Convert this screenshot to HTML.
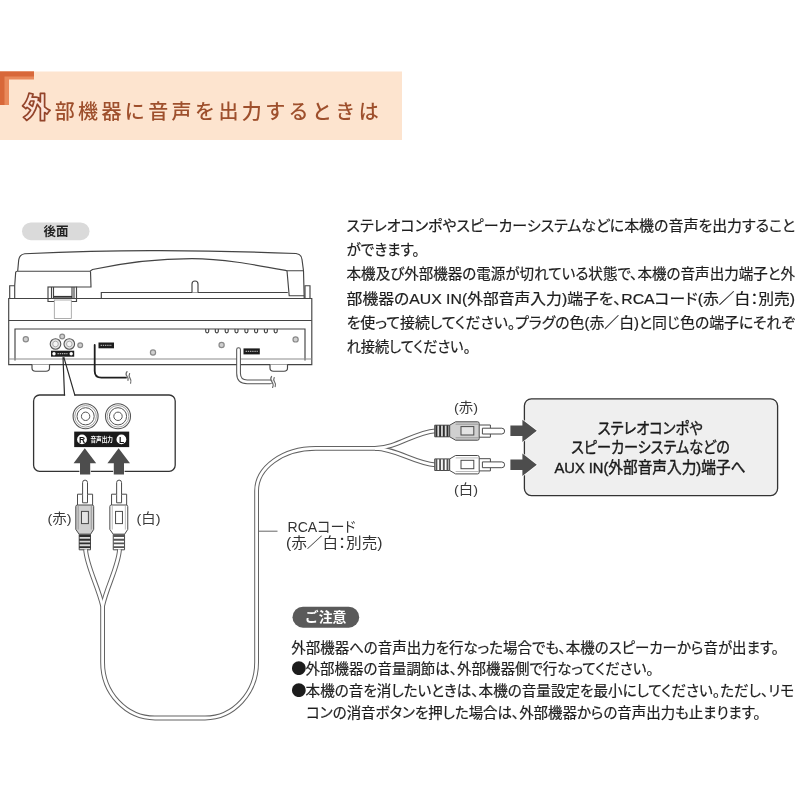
<!DOCTYPE html>
<html lang="ja">
<head>
<meta charset="utf-8">
<title>外部機器に音声を出力するときは</title>
<style>
html,body{margin:0;padding:0;background:#fff;}
body{width:800px;height:800px;overflow:hidden;position:relative;font-family:"Liberation Sans","Noto Sans CJK JP",sans-serif;}
svg{position:absolute;left:0;top:0;display:block;will-change:transform;}
text{font-family:"Liberation Sans","Noto Sans CJK JP",sans-serif;}
.body{font-size:15px;fill:#1e1e1e;stroke:#1e1e1e;stroke-width:0.22px;font-weight:400;font-feature-settings:"palt";}
.note{font-size:14.5px;fill:#1e1e1e;stroke:#1e1e1e;stroke-width:0.22px;font-weight:400;font-feature-settings:"palt";}
.ttl{font-size:20px;fill:#9e4f2c;font-weight:500;}
.bul{font-family:"Noto Sans CJK JP",sans-serif;font-size:15.2px;fill:#1c1c1c;}
.lbl{font-size:13.5px;fill:#3a3a3a;font-weight:400;}
.lbl2{font-size:14.5px;fill:#333;font-weight:400;font-feature-settings:"palt";}
.ln{fill:none;stroke:#444;stroke-width:1.15;}
.lnf{fill:#fff;stroke:#444;stroke-width:1.15;}
</style>
</head>
<body>
<svg width="800" height="800" viewBox="0 0 800 800">
<!-- ===== HEADER ===== -->
<g id="header">
<rect x="0" y="71.5" width="402" height="68.5" fill="#fde4cf"/>
<path d="M0 71.5H34V79.5H9V105H0Z" fill="#e98a5c"/>
<path d="M0 71.5H34V76.5H4.5V105H0Z" fill="#d8683a"/>
<text x="22.3" y="117.6" font-size="28" font-weight="900" fill="#fce3d8" stroke="#93442a" stroke-width="1.7" stroke-linejoin="round">外</text>
<text class="ttl" x="54.7" y="118.7" textLength="324" lengthAdjust="spacing">部機器に音声を出力するときは</text>
</g>

<!-- ===== PARAGRAPH ===== -->
<g id="para">
<text class="body" x="346.6" y="230.5" textLength="448.5" lengthAdjust="spacingAndGlyphs">ステレオコンポやスピーカーシステムなどに本機の音声を出力すること</text>
<text class="body" x="346.6" y="254.6" textLength="73" lengthAdjust="spacingAndGlyphs">ができます。</text>
<text class="body" x="346.6" y="279.3" textLength="448.5" lengthAdjust="spacingAndGlyphs">本機及び外部機器の電源が切れている状態で、本機の音声出力端子と外</text>
<text class="body" x="346.6" y="303.8" textLength="448.5" lengthAdjust="spacingAndGlyphs">部機器のAUX IN(外部音声入力)端子を、RCAコード(赤／白：別売)</text>
<text class="body" x="346.6" y="327.8" textLength="448.5" lengthAdjust="spacingAndGlyphs">を使って接続してください。プラグの色(赤／白)と同じ色の端子にそれぞ</text>
<text class="body" x="346.6" y="351.8" textLength="124" lengthAdjust="spacingAndGlyphs">れ接続してください。</text>
</g>

<!-- ===== NOTE ===== -->
<g id="note">
<rect x="292.5" y="606.7" width="66.7" height="21" rx="10.5" fill="#5a5a5a"/>
<text x="325.6" y="622.2" text-anchor="middle" font-size="14" font-weight="700" fill="#fff" textLength="41.5" lengthAdjust="spacingAndGlyphs">ご注意</text>
<text class="note" x="291.3" y="652.5" textLength="487.5" lengthAdjust="spacingAndGlyphs">外部機器への音声出力を行なった場合でも、本機のスピーカーから音が出ます。</text>
<text class="bul" x="291.2" y="674.3">●</text>
<text class="note" x="305.6" y="673.5" textLength="348" lengthAdjust="spacingAndGlyphs">外部機器の音量調節は、外部機器側で行なってください。</text>
<text class="bul" x="291.2" y="696.4">●</text>
<text class="note" x="305.6" y="696" textLength="488.5" lengthAdjust="spacingAndGlyphs">本機の音を消したいときは、本機の音量設定を最小にしてください。ただし、リモ</text>
<text class="note" x="306.2" y="717.6" textLength="454.5" lengthAdjust="spacingAndGlyphs">コンの消音ボタンを押した場合は、外部機器からの音声出力も止まります。</text>
</g>

<!-- ===== DIAGRAM ===== -->
<g id="diagram">
<!-- label pill -->
<rect x="22" y="222.4" width="67.5" height="17.8" rx="8.9" fill="#dadada"/>
<text x="56" y="236" text-anchor="middle" font-size="12.5" font-weight="700" fill="#222">後面</text>

<!-- turntable: lid -->
<g class="ln">
<path class="lnf" d="M14.7 298.5V285.7L15.7 272L17.7 271L18.7 260Q19.6 254.4 24.7 253.8Q100 250.3 160 250.6Q230 250.9 296 253.5Q301.5 254.2 302 259.5L303.5 270.7L304.2 298.5Z"/>
<path d="M9.7 298.5V285.7H14.7"/>
<path d="M17.7 271.2H90L92.5 269.5C125 262.5 160 258.6 192 258.6C222 258.6 254 264.6 287 270.7H303.5"/>
<path d="M90.5 271.2L91 287H76.5"/>
<path d="M287 270.7L289.2 295.7H304.2"/>
<path d="M305 298.5V285.7H310V298.5"/>
<!-- platter + spindle -->
<path d="M101.3 298.5V292.5H287.8"/>
<path class="lnf" d="M192 292.5V284Q192 281 195 281Q198 281 198 284V292.5"/>
</g>
<!-- hinge -->
<g class="ln">
<rect x="48" y="287" width="28.5" height="14.5" fill="#fff"/>
<path d="M51.5 287V301.5M53.5 287V301.5M72 287V301.5M74 287V301.5"/>
<path d="M53.5 296.8H72" stroke="#333" stroke-width="1.8"/>
</g>
<!-- body -->
<g class="ln">
<path d="M8.7 298.5H311.8V364.6H8.7Z" fill="#fff"/>
<path d="M48 298.5V301.5H54M76.5 298.5V301.5H71" />
<rect x="54.3" y="300" width="17" height="18.5" stroke="#999" stroke-width="0.8" fill="#fff"/>
<path d="M8.7 320.5H311.8"/>
<path d="M15 360.4V329H305V360.4"/>
<path d="M8.7 359H311.8" stroke="#8c8c8c" stroke-width="1.1"/>
<!-- feet -->
<path class="lnf" d="M32 364.6V368Q32 371.2 35.5 371.2H46Q49.5 371.2 49.5 368V364.6"/>
<path class="lnf" d="M270 364.6V368Q270 371.2 273.5 371.2H284Q287.5 371.2 287.5 368V364.6"/>
</g>
<!-- vent holes -->
<g class="ln" stroke-width="0.9">
<path d="M205.7 329V331.3a1.5 1.5 0 0 0 3 0V329"/>
<path d="M215.3 329V331.3a1.5 1.5 0 0 0 3 0V329"/>
<path d="M225.2 329V331.3a1.5 1.5 0 0 0 3 0V329"/>
<path d="M235 329V331.3a1.5 1.5 0 0 0 3 0V329"/>
<path d="M244.9 329V331.3a1.5 1.5 0 0 0 3 0V329"/>
<path d="M254.6 329V331.3a1.5 1.5 0 0 0 3 0V329"/>
<path d="M264.4 329V331.3a1.5 1.5 0 0 0 3 0V329"/>
<path d="M274.2 329V331.3a1.5 1.5 0 0 0 3 0V329"/>
</g>
<!-- screws -->
<g fill="#cfcfcf" stroke="#8a8a8a" stroke-width="1.2">
<circle cx="25.8" cy="339.2" r="2.6"/>
<circle cx="153" cy="352.5" r="2.6"/>
<circle cx="221.6" cy="345" r="2.6"/>
<circle cx="295.6" cy="339.4" r="2.6"/>
<circle cx="62.2" cy="336.5" r="2.4"/>
<circle cx="80.2" cy="345.2" r="2.4"/>
</g>
<!-- small RCA jacks on panel -->
<g fill="#e4e4e4" stroke="#555" stroke-width="1.1">
<circle cx="55.5" cy="344" r="5.3"/>
<circle cx="69.3" cy="344" r="5.3"/>
</g>
<g fill="#f4f4f4" stroke="#999" stroke-width="0.8">
<circle cx="55.5" cy="344" r="2.8"/>
<circle cx="69.3" cy="344" r="2.8"/>
</g>
<rect x="51" y="350.7" width="23.2" height="6" fill="#1c1c1c"/>
<circle cx="54" cy="353.7" r="1.7" fill="#fff"/>
<circle cx="71.2" cy="353.7" r="1.7" fill="#fff"/>
<path d="M57.5 353.7H67.5" stroke="#b5b5b5" stroke-width="1.2" stroke-dasharray="1.4 0.8"/>
<!-- PHONE OUT label + black cord -->
<rect x="98.5" y="342.5" width="15.5" height="5.8" fill="#1c1c1c"/>
<path d="M100.6 345.4H112" stroke="#a8a8a8" stroke-width="1.2" stroke-dasharray="1.4 0.8"/>
<path d="M94.7 345V371Q94.7 377.7 101.4 377.7H126" fill="none" stroke="#1e1e1e" stroke-width="1.8" stroke-linecap="round"/>
<path d="M127 371.6q-1.8 2.4 -0.2 4.4q1.8 2 1.2 4.4M129.6 373.6q-1.2 2.4 0.4 4.6q1.6 2.2 0.6 5" fill="none" stroke="#6a6a6a" stroke-width="1.2" stroke-linecap="round"/>
<!-- AC label + AC cord -->
<rect x="243.5" y="348.4" width="16.3" height="6" fill="#1c1c1c"/>
<path d="M245.6 351.4H257.8" stroke="#a8a8a8" stroke-width="1.2" stroke-dasharray="1.4 0.8"/>
<path d="M238.55 349.6V373.2Q238.55 381.8 247.2 381.8H270.3" fill="none" stroke="#555" stroke-width="4.8" stroke-linecap="round"/>
<path d="M238.55 349.6V373.2Q238.55 381.8 247.2 381.8H271.6" fill="none" stroke="#fff" stroke-width="2.7" stroke-linecap="round"/>
<path d="M271.6 376.4q-1.8 2.6 0.2 5.2q2.2 2.8 0.8 5.8M274.2 377.6q-1.2 2.2 0.4 4.4q1.6 2.2 0.6 4.6" fill="none" stroke="#6a6a6a" stroke-width="1.2" stroke-linecap="round"/>

<!-- zoom box -->
<rect x="33.6" y="395" width="141.6" height="76.3" rx="6" fill="#fff" stroke="#333" stroke-width="1.3"/>
<path d="M65.1 395H74.4" stroke="#fff" stroke-width="3.4"/>
<path d="M63 357.2L64.5 395.6M63.8 357.2L75 395.6" fill="none" stroke="#2a2a2a" stroke-width="1.2"/>
<!-- big jacks -->
<g fill="none" stroke="#555">
<circle cx="85.6" cy="416.3" r="12.5" stroke-width="1.1" fill="#fff"/>
<circle cx="85.6" cy="416.3" r="10.8" stroke-width="0.8" stroke="#8c8c8c"/>
<circle cx="85.6" cy="416.3" r="8.6" stroke-width="1"/>
<circle cx="85.6" cy="416.3" r="4.2" stroke-width="1"/>
<circle cx="118" cy="416.3" r="12.5" stroke-width="1.1" fill="#fff"/>
<circle cx="118" cy="416.3" r="10.8" stroke-width="0.8" stroke="#8c8c8c"/>
<circle cx="118" cy="416.3" r="8.6" stroke-width="1"/>
<circle cx="118" cy="416.3" r="4.2" stroke-width="1"/>
</g>
<!-- black label -->
<rect x="74.2" y="431.6" width="55" height="15.5" fill="#1a1a1a"/>
<circle cx="82" cy="439.4" r="4.9" fill="#fff"/>
<circle cx="121.4" cy="439.4" r="4.9" fill="#fff"/>
<text x="82" y="442.6" text-anchor="middle" font-size="8.5" font-weight="700" fill="#111">R</text>
<text x="121.7" y="442.6" text-anchor="middle" font-size="8.5" font-weight="700" fill="#111">L</text>
<text x="101.7" y="441.8" text-anchor="middle" font-size="6.4" font-weight="700" fill="#fff" textLength="22.5" lengthAdjust="spacingAndGlyphs">音声出力</text>
<!-- up arrows -->
<g fill="#4d4d4d" stroke="#fff" stroke-width="1.2" paint-order="stroke">
<path d="M84.8 448.3L96.2 463.2H90.2V474.4H80V463.2H73.6Z"/>
<path d="M118.6 448.3L130 463.2H124V474.4H113.8V463.2H107.4Z"/>
</g>
<!-- vertical plugs -->
<g stroke="#4a4a4a" stroke-width="1">
<path d="M82.6 502.8V482.6Q82.6 480.1 85.05 480.1Q87.5 480.1 87.5 482.6V502.8Z" fill="#fff"/>
<path d="M77.5 505V494.2H82.6M87.5 494.2H92.6V505" fill="#fff"/>
<path d="M77.3 505H92.1Q93.7 505 93.7 506.6V529.4L90.5 534.3H79.2L75.8 529.4V506.6Q75.8 505 77.3 505Z" fill="#d0d0d0"/>
<path d="M78.2 506V529.6M91.3 506V529.6" stroke="#8a8a8a" stroke-width="0.8" fill="none"/>
<rect x="81.5" y="511.4" width="6.9" height="12.2" fill="#e4e4e4"/>
<path d="M79.2 534.3H90.5V549.8H79.2Z" fill="#d8d8d8"/>
<path d="M79.2 536H90.5M79.2 539.7H90.5M79.2 543.4H90.5M79.2 547.1H90.5" stroke="#2e2e2e" stroke-width="1.9"/>
<path d="M116.65 502.8V482.6Q116.65 480.1 119.1 480.1Q121.55 480.1 121.55 482.6V502.8Z" fill="#fff"/>
<path d="M111.55 505V494.2H116.65M121.55 494.2H126.65V505" fill="#fff"/>
<path d="M111.35 505H126.15Q127.75 505 127.75 506.6V529.4L124.55 534.3H113.25L109.85 529.4V506.6Q109.85 505 111.35 505Z" fill="#fff"/>
<path d="M112.25 506V529.6M125.35 506V529.6" stroke="#aaa" stroke-width="0.8" fill="none"/>
<rect x="115.55" y="511.4" width="6.9" height="12.2" fill="#fff"/>
<path d="M113.25 534.3H124.55V549.8H113.25Z" fill="#fff"/>
<path d="M113.25 536H124.55M113.25 539.7H124.55M113.25 543.4H124.55M113.25 547.1H124.55" stroke="#555" stroke-width="1.9"/>
</g>
<text class="lbl" x="59.5" y="523.2" text-anchor="middle" textLength="24" lengthAdjust="spacingAndGlyphs">(赤)</text>
<text class="lbl" x="148.5" y="523.2" text-anchor="middle" textLength="24" lengthAdjust="spacingAndGlyphs">(白)</text>

<!-- cable: outer dark + inner white -->
<g fill="none" stroke="#636363" stroke-width="4.8">
<path d="M85.6 549.4C86.6 566 98 586 102.6 606"/>
<path d="M119.5 549.4C118.6 566 107 586 102.6 606"/>
<path d="M102.6 602V662.2A52.4 55.8 0 0 0 155 718H205A51.6 55.8 0 0 0 256.6 662.2V491A59 42.6 0 0 1 315.6 448.4H381"/>
<path d="M375 448.4C397 448 414 432.4 435.5 430.8"/>
<path d="M375 448.4C397 448.8 414 463.2 435.5 464.9"/>
</g>
<g fill="none" stroke="#fff" stroke-width="2.8">
<path d="M85.6 549.4C86.6 566 98 586 102.6 606"/>
<path d="M119.5 549.4C118.6 566 107 586 102.6 606"/>
<path d="M102.6 602V662.2A52.4 55.8 0 0 0 155 718H205A51.6 55.8 0 0 0 256.6 662.2V491A59 42.6 0 0 1 315.6 448.4H381"/>
<path d="M375 448.4C397 448 414 432.4 435.5 430.8"/>
<path d="M375 448.4C397 448.8 414 463.2 435.5 464.9"/>
</g>
<!-- leader + RCA label -->
<path d="M259 531.2H277.5" stroke="#555" stroke-width="0.9" fill="none"/>
<text class="lbl2" x="287.5" y="531.6" textLength="68" lengthAdjust="spacingAndGlyphs">RCAコード</text>
<text class="lbl2" x="286" y="548.4" fill="#4a4a4a" textLength="96.5" lengthAdjust="spacingAndGlyphs">(赤／白：別売)</text>

<!-- horizontal plugs -->
<g stroke="#4a4a4a" stroke-width="1">
<path d="M434.7 425.2H449.7V436.8H434.7Z" fill="#d8d8d8"/>
<path d="M436.4 425.2V436.8M440.1 425.2V436.8M443.8 425.2V436.8M447.5 425.2V436.8" stroke="#2e2e2e" stroke-width="1.9"/>
<path d="M449.7 425.2L455.6 421.8H477.6Q479.2 421.8 479.2 423.4V438.6Q479.2 440.2 477.6 440.2H455.6L449.7 436.8Z" fill="#d0d0d0"/>
<path d="M455.6 424.2H478.6M455.6 437.8H478.6" stroke="#8a8a8a" stroke-width="0.8" fill="none"/>
<rect x="461" y="426.6" width="12.8" height="8.4" fill="#e4e4e4"/>
<path d="M479.2 425H490.4V428.4M490.4 433.8V437.2H479.2" fill="#fff"/>
<path d="M482.4 428.2H501.8Q504.6 428.2 504.6 431.1Q504.6 434 501.8 434H482.4Z" fill="#fff"/>
<path d="M434.7 458.9H449.7V470.5H434.7Z" fill="#fff"/>
<path d="M436.4 458.9V470.5M440.1 458.9V470.5M443.8 458.9V470.5M447.5 458.9V470.5" stroke="#555" stroke-width="1.9"/>
<path d="M449.7 458.9L455.6 455.5H477.6Q479.2 455.5 479.2 457.1V472.3Q479.2 473.9 477.6 473.9H455.6L449.7 470.5Z" fill="#fff"/>
<path d="M455.6 457.9H478.6M455.6 471.5H478.6" stroke="#aaa" stroke-width="0.8" fill="none"/>
<rect x="461" y="460.3" width="12.8" height="8.4" fill="#fff"/>
<path d="M479.2 458.7H490.4V462.1M490.4 467.5V470.9H479.2" fill="#fff"/>
<path d="M482.4 461.9H501.8Q504.6 461.9 504.6 464.8Q504.6 467.7 501.8 467.7H482.4Z" fill="#fff"/>
</g>
<text class="lbl" x="466" y="411.5" text-anchor="middle" textLength="24" lengthAdjust="spacingAndGlyphs">(赤)</text>
<text class="lbl" x="466" y="493.5" text-anchor="middle" textLength="24" lengthAdjust="spacingAndGlyphs">(白)</text>

<!-- destination box -->
<rect x="524.4" y="398.8" width="253.2" height="96.8" rx="7" fill="#efefef" stroke="#333" stroke-width="1.3"/>
<g fill="#4d4d4d" stroke="#fff" stroke-width="1.4" paint-order="stroke">
<path d="M510.4 425.6H522.4V419.7L536.8 430.8L522.4 441.9V436H510.4Z"/>
<path d="M510.4 459.4H522.4V453.6L536.8 464.8L522.4 476V470H510.4Z"/>
</g>
<g font-size="15.5" fill="#1a1a1a" stroke="#1a1a1a" stroke-width="0.4" font-weight="400" text-anchor="middle" style="font-feature-settings:&quot;palt&quot;">
<text x="650.3" y="433.5" textLength="105" lengthAdjust="spacingAndGlyphs">ステレオコンポや</text>
<text x="650.5" y="453" textLength="158.5" lengthAdjust="spacingAndGlyphs">スピーカーシステムなどの</text>
<text x="650" y="472.5" textLength="191" lengthAdjust="spacingAndGlyphs">AUX IN(外部音声入力)端子へ</text>
</g>

</g>
</svg>
</body>
</html>
